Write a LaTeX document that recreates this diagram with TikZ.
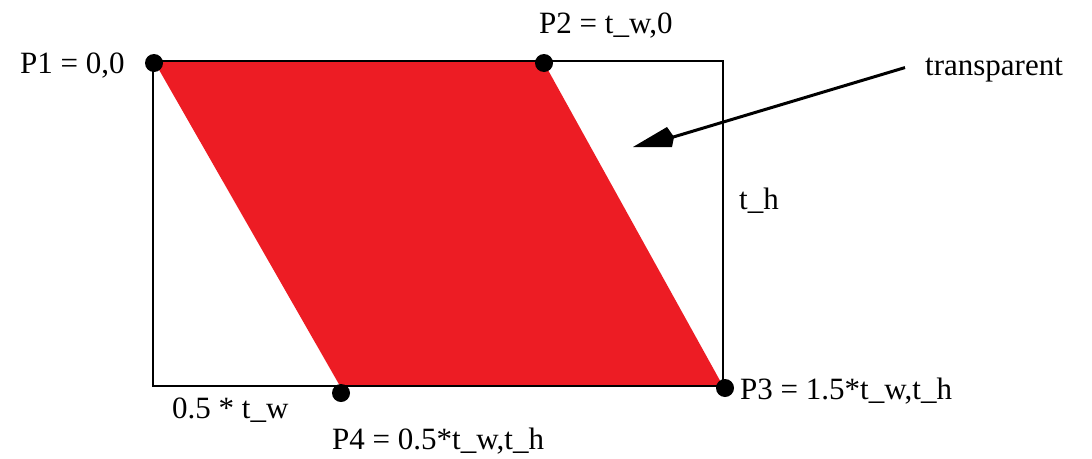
\documentclass[tikz,border=0pt]{standalone}
\usepackage{fontspec}
\setmainfont{Liberation Serif}
\usetikzlibrary{arrows.meta}
\definecolor{pred}{HTML}{ED1C24}
\begin{document}
\begin{tikzpicture}[x=1pt,y=-1pt,
  lbl/.style={anchor=base west,inner sep=0pt,font=\fontsize{31}{34}\selectfont},
  dot/.style={circle,fill=black,minimum size=18pt,inner sep=0pt}]
\useasboundingbox (0,0) rectangle (1092,458);
% parallelogram
\fill[pred] (154,61) -- (543,61) -- (723,386) -- (340,386) -- cycle;
% frame
\draw[line width=2.5pt] (153,61) rectangle (723,386);
% dots
\node[dot] (p1) at (154,63) {};
\node[dot] (p2) at (544,63) {};
\node[dot] (p3) at (725,388) {};
\node[dot] (p4) at (341,393) {};
% labels
\node[lbl] (l1) at (20,73) {P1 = 0,0};
\node[lbl] (l2) at (539,33) {P2 = t\_w,0};
\node[lbl] (l3) at (740,399) {P3 = 1.5*t\_w,t\_h};
\node[lbl] (l4) at (332,449) {P4 = 0.5*t\_w,t\_h};
\node[lbl] (lw) at (172,418) {0.5 * t\_w};
\node[lbl] (lh) at (739,209) {t\_h};
\node[lbl] (tr) at (925,75) {transparent};
% arrow
\coordinate (hb) at (670,138);
\coordinate (tip) at (633,147);
\draw[line width=3pt] ([xshift=-20pt,yshift=2pt]tr.west) -- (hb);
\fill (tip) -- (667,127) -- (674,137) -- (672,147) -- cycle;
\end{tikzpicture}
\end{document}
